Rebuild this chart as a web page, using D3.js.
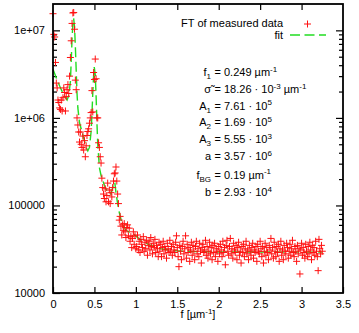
<!DOCTYPE html>
<html>
<head>
<meta charset="utf-8">
<script src="https://cdn.jsdelivr.net/npm/d3@7"></script>
<style>
  body { margin: 0; background: #fff; }
  text { font-family: "Liberation Sans", Arial, sans-serif; font-size: 11px; fill: #000; }
</style>
</head>
<body>
<svg id="chart" width="359" height="333"></svg>
<script>
// FT of measured data, sampled every 0.01 um^-1 starting at 0
const freqStep = 0.01;
const ftValues = [
  1.55e7, 9.0e6, 8.4e6, 4.3e6, 2.5e6, 2.2e6, 1.6e6, 1.5e6, 1.3e6, 1.25e6,
  1.6e6, 1.2e6, 1.7e6, 2.2e6, 1.95e6, 1.2e6, 1.75e6, 2.1e6, 2.4e6, 1.9e6,
  3.0e6, 4.9e6, 7.6e6, 1.2e7, 1.58e7, 1.6e7, 1.03e7, 2.7e6, 2.1e6, 1.0e6,
  8.3e5, 6.9e5, 5.3e5, 6.9e5, 5.0e5, 4.6e5, 6.2e5, 4.3e5, 5.5e5, 3.6e5,
  4.8e5, 6.3e5, 7.0e5, 7.5e5, 8.7e5, 1.0e6, 1.15e6, 2.05e6, 1.17e6, 3.3e6,
  2.75e6, 4.7e6, 2.8e6, 1.0e6, 1.0e6, 5.2e5, 4.6e5, 3.6e5, 3.05e5, 2.05e5,
  1.6e5, 1.35e5, 1.2e5, 1.55e5, 1.1e5, 1.3e5, 1.8e5, 1.1e5, 1.5e5, 1.05e5,
  1.4e5, 1.25e5, 1.6e5, 1.9e5, 2.3e5, 2.35e5, 2.75e5, 1.9e5, 1.35e5, 1.05e5,
  6.8e4, 7.5e4, 5.8e4, 4.6e4, 6.0e4, 5.2e4, 6.2e4, 5.0e4, 4.3e4, 5.6e4,
  6.0e4, 4.5e4, 5.5e4, 3.9e4, 4.4e4, 3.3e4, 4.2e4, 5.0e4, 3.6e4, 4.5e4,
  3.2e4,
  3.4e4, 4.6e4, 3.1e4, 3.9e4, 2.9e4, 4.1e4, 3.6e4, 3.3e4, 4.4e4, 3.0e4,
  3.8e4, 3.2e4, 4.0e4, 2.7e4, 3.5e4, 3.9e4, 3.1e4, 4.3e4, 3.4e4, 2.8e4,
  3.7e4, 3.3e4, 4.1e4, 2.9e4, 3.5e4, 3.2e4, 2.6e4, 3.8e4, 3.0e4, 3.6e4,
  2.6e4, 3.3e4, 3.9e4, 2.8e4, 3.4e4, 3.1e4, 2.5e4, 3.7e4, 3.2e4, 2.9e4,
  4.0e4, 3.0e4, 3.4e4, 2.7e4, 3.6e4, 3.1e4, 2.9e4, 3.8e4, 4.5e4, 3.3e4,
  2.6e4, 2.0e4, 3.5e4, 3.0e4, 2.4e4, 3.4e4, 3.9e4, 2.8e4, 3.2e4, 4.5e4,
  2.5e4, 3.6e4, 2.9e4, 3.3e4, 2.3e4, 3.1e4, 3.8e4, 2.7e4, 3.5e4, 3.0e4,
  2.4e4, 3.4e4, 3.9e4, 2.8e4, 3.2e4, 2.6e4, 3.7e4, 3.0e4, 2.2e4, 3.3e4,
  3.6e4, 2.9e4, 3.1e4, 4.0e4, 2.7e4, 3.4e4, 2.5e4, 3.0e4, 3.8e4, 2.8e4,
  3.3e4, 2.4e4, 3.5e4, 2.9e4, 3.7e4, 2.6e4, 3.2e4, 3.0e4, 2.3e4, 3.4e4,
  2.8e4, 3.6e4, 3.1e4, 2.6e4, 3.9e4, 2.9e4, 3.3e4, 2.1e4, 3.5e4, 4.0e4,
  3.0e4, 2.7e4, 3.4e4, 4.2e4, 2.8e4, 3.2e4, 2.5e4, 3.7e4, 3.1e4, 2.9e4,
  3.5e4, 2.4e4, 3.3e4, 3.8e4, 2.7e4, 3.0e4, 2.2e4, 3.4e4, 2.9e4, 3.6e4,
  2.6e4, 3.2e4, 3.9e4, 2.8e4, 3.1e4, 2.4e4, 3.5e4, 3.0e4, 2.7e4, 3.3e4,
  3.7e4, 2.5e4, 3.1e4, 2.9e4, 3.4e4, 2.3e4, 3.6e4, 3.0e4, 2.8e4, 3.9e4,
  3.2e4, 2.6e4, 3.4e4, 2.2e4, 3.0e4, 3.7e4, 2.7e4, 3.3e4, 2.9e4, 2.4e4,
  3.5e4, 3.1e4, 4.2e4, 2.8e4, 3.3e4, 2.5e4, 3.8e4, 3.0e4, 2.6e4, 3.4e4,
  2.9e4, 3.6e4, 2.3e4, 3.2e4, 3.9e4, 2.7e4, 3.1e4, 2.4e4, 3.5e4, 3.0e4,
  2.8e4, 3.7e4, 3.3e4, 2.5e4, 3.0e4, 3.6e4, 2.7e4, 3.2e4, 4.0e4, 2.9e4,
  2.6e4, 3.4e4, 3.0e4, 2.3e4, 3.5e4, 2.8e4, 3.2e4, 1.65e4, 3.1e4, 3.7e4,
  2.7e4, 3.3e4, 2.9e4, 2.5e4, 3.6e4, 3.0e4, 2.6e4, 3.4e4, 2.8e4, 3.8e4,
  3.1e4, 2.4e4, 3.5e4, 2.9e4, 3.3e4, 2.7e4, 3.9e4, 3.0e4, 2.6e4, 1.8e4,
  4.1e4, 3.2e4, 2.8e4, 3.5e4, 3.0e4
];

// fit curve
const fitFreq = [0, 0.05, 0.1, 0.15, 0.17, 0.19, 0.21, 0.22, 0.23, 0.24, 0.249,
  0.26, 0.27, 0.28, 0.29, 0.30, 0.32, 0.36, 0.40, 0.42, 0.44, 0.46, 0.47, 0.48,
  0.49, 0.498, 0.51, 0.52, 0.53, 0.54, 0.56, 0.58, 0.62, 0.66, 0.70, 0.72, 0.735,
  0.747, 0.76, 0.78, 0.80, 0.83, 0.88, 0.97, 1.05, 1.15, 1.3, 1.45, 1.6, 2.0, 3.25];
const fitValues = [3.6e6, 2.7e6, 2.1e6, 1.7e6, 1.6e6, 1.8e6, 2.6e6, 4.5e6, 8.0e6, 1.2e7, 1.37e7,
  1.1e7, 6.5e6, 3.5e6, 1.9e6, 1.3e6, 8.8e5, 6.4e5, 4.6e5, 4.2e5, 4.6e5, 7.0e5, 1.1e6, 1.9e6,
  3.0e6, 3.8e6, 3.1e6, 1.8e6, 9.0e5, 5.0e5, 2.7e5, 2.2e5, 1.7e5, 1.4e5, 1.35e5, 1.6e5, 1.85e5,
  1.8e5, 1.4e5, 1.05e5, 8.3e4, 6.4e4, 5.2e4, 4.7e4, 4.1e4, 3.6e4, 3.2e4, 3.05e4, 2.98e4, 2.94e4, 2.93e4];

const xTicks = [0, 0.5, 1, 1.5, 2, 2.5, 3, 3.5];
const yTicks = [1e4, 1e5, 1e6, 1e7];
const yTickLabels = ["10000", "100000", "1e+06", "1e+07"];

// fit parameters shown in the plot: [left part, right part]
const paramNames = [
  [["f", ""], ["1", "sub"]],
  [["\u03c3\u0303", ""]],
  [["A", ""], ["1", "sub"]],
  [["A", ""], ["2", "sub"]],
  [["A", ""], ["3", "sub"]],
  [["a", ""]],
  [["f", ""], ["BG", "sub"]],
  [["b", ""]]
];
const paramValues = [
  [["= 0.249 \u00b5m", ""], ["-1", "sup"]],
  [["= 18.26 \u00b7 10", ""], ["-3", "sup"], [" \u00b5m", ""], ["-1", "sup"]],
  [["= 7.61 \u00b7 10", ""], ["5", "sup"]],
  [["= 1.69 \u00b7 10", ""], ["5", "sup"]],
  [["= 5.55 \u00b7 10", ""], ["3", "sup"]],
  [["= 3.57 \u00b7 10", ""], ["6", "sup"]],
  [["= 0.19 \u00b5m", ""], ["-1", "sup"]],
  [["= 2.93 \u00b7 10", ""], ["4", "sup"]]
];
const paramBaselines = [76, 93, 109.5, 126, 143, 160, 178.5, 196];

let svg = d3.select("#chart"),
    margin = {top: 4, right: 16, bottom: 40, left: 53},
    width = +svg.attr("width") - margin.left - margin.right,
    height = +svg.attr("height") - margin.top - margin.bottom;

let x = d3.scaleLinear().domain([0, 3.5]).range([0, width]),
    y = d3.scaleLog().domain([1e4, 2e7]).range([height, 0]);

let minorTicks = [];
[1e4, 1e5, 1e6, 1e7].forEach(d => {
  for (let k = 2; k <= 9; k++) if (k * d < 2e7) minorTicks.push(k * d);
});

let g = svg.append("g").attr("transform", "translate(" + margin.left + "," + margin.top + ")");

function styleAxis(sel) {
  sel.select(".domain").remove();
  sel.selectAll(".tick line").attr("stroke", "#000").attr("stroke-width", 1.2);
  sel.selectAll("text").style("font-size", "11px").attr("fill", "#000");
}

// bottom + top
g.append("g").attr("transform", "translate(0," + height + ")")
  .call(d3.axisBottom(x).tickValues(xTicks).tickSize(-6).tickPadding(7).tickFormat(d3.format("")))
  .call(styleAxis);
g.append("g")
  .call(d3.axisTop(x).tickValues(xTicks.slice(1, -1)).tickSize(-6).tickFormat(""))
  .call(styleAxis);

// left + right, majors and minors
g.append("g")
  .call(d3.axisLeft(y).tickValues(yTicks).tickSize(-7).tickPadding(8).tickFormat((d, i) => yTickLabels[i]))
  .call(styleAxis);
g.append("g")
  .call(d3.axisLeft(y).tickValues(minorTicks).tickSize(-4).tickFormat(""))
  .call(styleAxis);
g.append("g").attr("transform", "translate(" + width + ",0)")
  .call(d3.axisRight(y).tickValues(yTicks.slice(1)).tickSize(-7).tickFormat(""))
  .call(styleAxis);
g.append("g").attr("transform", "translate(" + width + ",0)")
  .call(d3.axisRight(y).tickValues(minorTicks).tickSize(-4).tickFormat(""))
  .call(styleAxis);

// fit line
let fitData = fitFreq.map((f, i) => ({f: f, v: fitValues[i]}));
let line = d3.line().x(d => x(d.f)).y(d => y(d.v));
g.append("path")
  .datum(fitData)
  .attr("d", line)
  .attr("fill", "none")
  .attr("stroke", "#22dd22")
  .attr("stroke-width", 1.4)
  .attr("stroke-dasharray", "10,4.5");

// data crosses
const cross = "M-3.5,0H3.5M0,-3.5V3.5";
g.selectAll(".pt")
  .data(ftValues.map((v, i) => ({f: i * freqStep, v: v})))
  .enter().append("path")
  .attr("class", "pt")
  .attr("transform", d => "translate(" + x(d.f) + "," + y(d.v) + ")")
  .attr("d", cross)
  .attr("fill", "none")
  .attr("stroke", "#ff1010")
  .attr("stroke-width", 1);

// frame
g.append("rect")
  .attr("width", width).attr("height", height)
  .attr("fill", "none").attr("stroke", "#000").attr("stroke-width", 1.8);

// legend
svg.append("text").attr("x", 283).attr("y", 27).attr("text-anchor", "end").text("FT of measured data");
svg.append("path").attr("transform", "translate(307.5,24)").attr("d", cross)
  .attr("stroke", "#ff1010").attr("stroke-width", 1).attr("fill", "none");
svg.append("text").attr("x", 283).attr("y", 38.6).attr("text-anchor", "end").text("fit");
svg.append("line").attr("x1", 290).attr("x2", 326).attr("y1", 35).attr("y2", 35)
  .attr("stroke", "#22dd22").attr("stroke-width", 1.4).attr("stroke-dasharray", "10,4.5");

// rich text helper: segments with sub/superscripts
function richText(sel, parts) {
  let shift = 0;
  parts.forEach(p => {
    let target = p[1] === "sup" ? -4.5 : p[1] === "sub" ? 3 : 0;
    sel.append("tspan")
      .attr("dy", target - shift)
      .style("font-size", p[1] ? "8px" : "11px")
      .text(p[0]);
    shift = target;
  });
}

paramNames.forEach((parts, i) => {
  let t = svg.append("text").attr("x", 211).attr("y", paramBaselines[i]).attr("text-anchor", "end");
  richText(t, parts);
  let r = svg.append("text").attr("x", 214.5).attr("y", paramBaselines[i]);
  richText(r, paramValues[i]);
});

// x label
let xl = svg.append("text").attr("x", margin.left + width / 2).attr("y", 318).attr("text-anchor", "middle");
richText(xl, [["f [\u00b5m", ""], ["-1", "sup"], ["]", ""]]);
</script>
</body>
</html>
